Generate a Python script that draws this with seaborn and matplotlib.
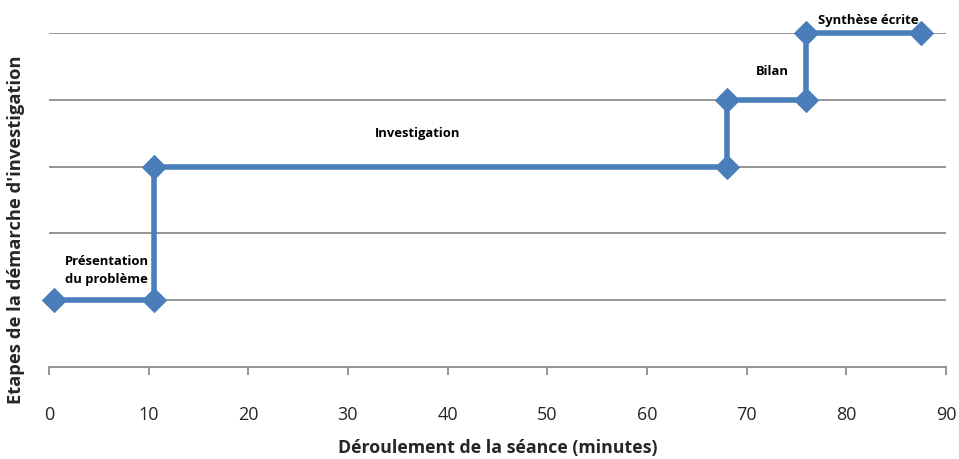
import matplotlib
matplotlib.use("Agg")
import matplotlib.pyplot as plt
import seaborn as sns
import pandas as pd

# Timeline of the session: minutes vs. investigation step level
minutes = [0.5, 10.5, 10.5, 68, 68, 76, 76, 87.5]
steps = [1, 1, 3, 3, 4, 4, 5, 5]
x_ticks = [0, 10, 20, 30, 40, 50, 60, 70, 80, 90]
y_grid = [1, 2, 3, 4, 5]

phase_labels = ["Présentation\ndu problème", "Investigation", "Bilan", "Synthèse écrite"]
phase_x = [1.6, 37, 72.6, 77.2]
phase_y = [1.45, 3.5, 4.42, 5.19]
phase_ha = ["left", "center", "center", "left"]

sns.set_theme(style="white")
plt.rcParams["font.family"] = ["Open Sans", "DejaVu Sans"]

df = pd.DataFrame({"minutes": minutes, "step": steps})

fig = plt.figure(figsize=(9.59, 4.59), dpi=100)
ax = fig.add_axes([0.0511, 0.2004, 0.9353, 0.7277])

grid_color = "#8c8c8c"
for g in y_grid:
    ax.axhline(g, color=grid_color, lw=1.3, zorder=0)

sns.lineplot(data=df, x="minutes", y="step", sort=False, estimator=None,
             color="#4a7ebb", lw=4, marker="D", markersize=12.5,
             markeredgecolor="#4a7ebb", ax=ax, zorder=3, clip_on=False)

for lab, xx, yy, ha in zip(phase_labels, phase_x, phase_y, phase_ha):
    ax.text(xx, yy, lab, ha=ha, va="center", fontsize=9.4, fontweight="bold",
            color="black", linespacing=1.5)

ax.set_xlim(0, 90)
ax.set_ylim(0, 5)
ax.set_xticks(x_ticks)
ax.set_yticks([])
ax.tick_params(axis="x", direction="out", length=6, width=1.3, color=grid_color,
               pad=22, labelsize=13, bottom=True)
for s in ["left", "right", "top"]:
    ax.spines[s].set_visible(False)
ax.spines["bottom"].set_color(grid_color)
ax.spines["bottom"].set_linewidth(1.3)

ax.set_xlabel("Déroulement de la séance (minutes)", fontsize=12.8, fontweight="bold",
              labelpad=11)
ax.set_ylabel("Etapes de la démarche d'investigation", fontsize=13.2, fontweight="bold")
ax.yaxis.set_label_coords(-0.027, 0.41)

fig.savefig("out.png", dpi=100)
